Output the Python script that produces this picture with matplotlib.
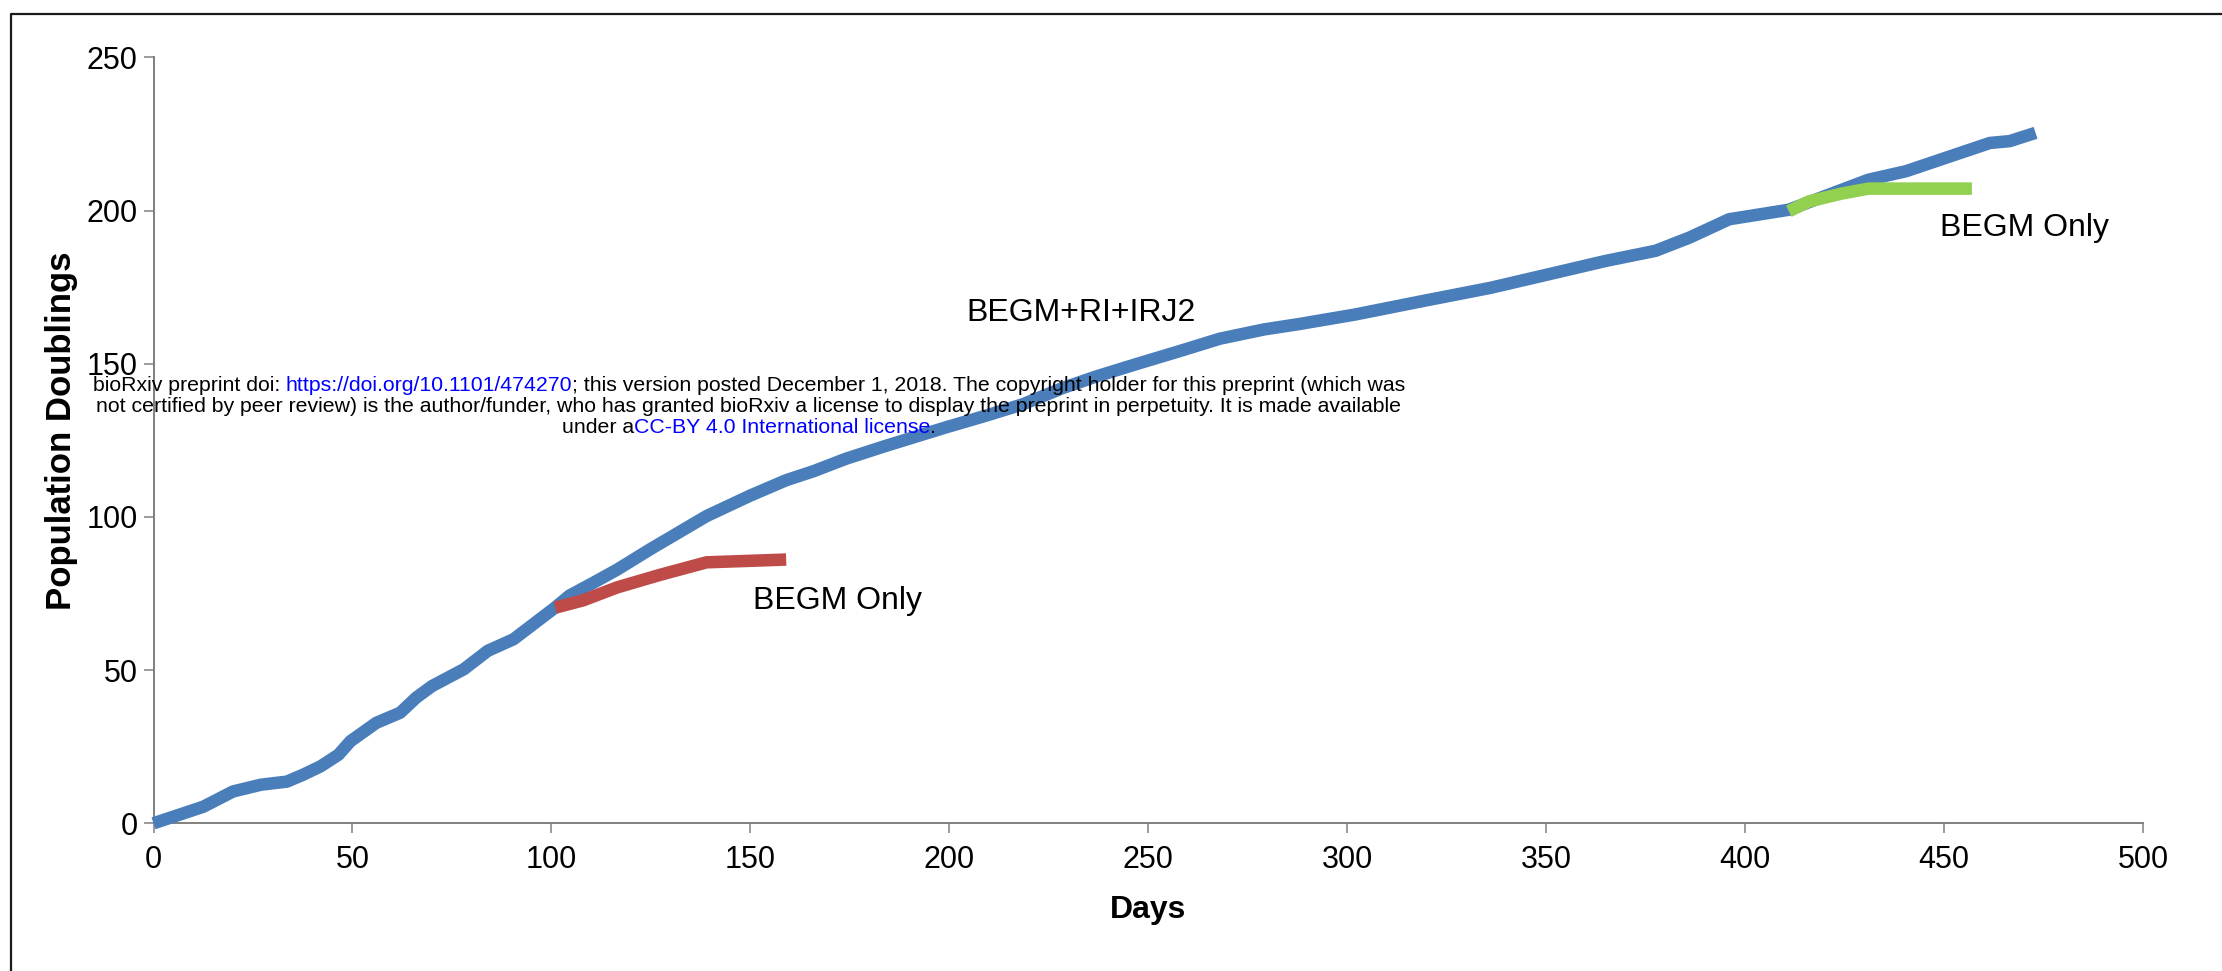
import matplotlib
matplotlib.use('Agg')
import matplotlib.pyplot as plt
from matplotlib.lines import Line2D

plt.rcParams['font.family'] = ['Liberation Sans', 'DejaVu Sans']

# BEGM+RI+IRJ2 (blue)
days_main = [0, 12.5, 20, 27, 33.5, 37.5, 42, 46.5, 49.5, 56, 62, 66, 70, 78, 84,
             90.5, 101, 104.5, 110.5, 116.5, 125, 139, 150, 159, 166, 174, 184,
             193, 199, 209, 218.5, 228.5, 237, 248, 258, 268, 279, 288, 302, 319,
             336, 352.5, 365, 377.5, 386, 396, 411, 431, 440.5, 461.5, 466.5, 473]
pd_main = [0, 5.4, 10.4, 12.6, 13.6, 15.8, 18.6, 22.4, 26.8, 32.8, 36.1, 41, 44.8,
           50.3, 56.3, 60.1, 70.5, 74.3, 78.5, 82.8, 89.6, 100.3, 107, 112, 115,
           119, 123.2, 126.8, 129.2, 133, 136.8, 142.1, 145.9, 150.3, 154.2,
           158.2, 161.2, 163, 166.1, 170.5, 174.8, 179.8, 183.6, 186.9, 191.2,
           197.2, 200.3, 210.1, 212.9, 222.1, 222.7, 225.4]

# BEGM only, switched at day ~101 (red)
days_red = [101, 108, 116.5, 127, 139, 159]
pd_red = [70.4, 72.8, 77.0, 81.0, 85.2, 86.1]

# BEGM only, switched at day ~411 (green)
days_green = [411, 416, 424, 431, 457]
pd_green = [199.8, 203.0, 205.5, 207.2, 207.2]

xticks = [0, 50, 100, 150, 200, 250, 300, 350, 400, 450, 500]
yticks = [0, 50, 100, 150, 200, 250]

W, H = 2222, 971
fig = plt.figure(figsize=(W / 100, H / 100), dpi=100)
ax = fig.add_axes([153.5 / W, 1 - 823.3 / H, (2143 - 153.5) / W, (823.3 - 57.5) / H])

lw = 9
ax.plot(days_main, pd_main, color='#4a7ebb', lw=lw, solid_capstyle='butt',
        solid_joinstyle='round', clip_on=False, zorder=3)
ax.plot(days_red, pd_red, color='#be4b48', lw=lw, solid_capstyle='butt',
        solid_joinstyle='round', clip_on=False, zorder=4)
ax.plot(days_green, pd_green, color='#92d050', lw=lw, solid_capstyle='butt',
        solid_joinstyle='round', clip_on=False, zorder=4)

ax.set_xlim(0, 500)
ax.set_ylim(0, 250)
ax.set_xticks(xticks)
ax.set_yticks(yticks)
for s in ['top', 'right']:
    ax.spines[s].set_visible(False)
for s in ['left', 'bottom']:
    ax.spines[s].set_color('#808080')
    ax.spines[s].set_linewidth(1.4)
ax.tick_params(axis='both', direction='out', length=7.5, width=1.1, color='#808080',
               labelsize=22, labelcolor='black')
ax.tick_params(axis='x', pad=8)
ax.tick_params(axis='y', pad=4)

ax.set_xlabel('Days', fontsize=23, fontweight='bold')
ax.xaxis.set_label_coords(0.5, -0.094)
ax.set_ylabel('Population Doublings', fontsize=25, fontweight='bold')
ax.yaxis.set_label_coords(-0.038, 0.512)

ax.text(233.2, 166.7, 'BEGM+RI+IRJ2', fontsize=23, ha='center', va='center')
ax.text(150.6, 70, 'BEGM Only', fontsize=23, ha='left', va='baseline')
ax.text(448.9, 191.8, 'BEGM Only', fontsize=23, ha='left', va='baseline')

# frame around the figure (left and top edges visible)
fig.add_artist(Line2D([11 / W, 11 / W, 1], [0, 1 - 14 / H, 1 - 14 / H],
                      transform=fig.transFigure, color='#1a1a1a', lw=1.6))

# bioRxiv watermark
wm_lines = [
    [('bioRxiv preprint doi: ', 'black'), ('https://doi.org/10.1101/474270', 'blue'),
     ('; this version posted December 1, 2018. The copyright holder for this preprint (which was', 'black')],
    [('not certified by peer review) is the author/funder, who has granted bioRxiv a license to display the preprint in perpetuity. It is made available', 'black')],
    [('under a', 'black'), ('CC-BY 4.0 International license', 'blue'), ('.', 'black')],
]
wm_base = [391, 412, 433]
wm_cx = 749
wm_size = 15.3

groups = []
for parts, by in zip(wm_lines, wm_base):
    items = []
    for s, c in parts:
        items.append(fig.text(0, 1 - by / H, s, color=c, fontsize=wm_size,
                              ha='left', va='baseline', zorder=10))
    groups.append(items)

fig.canvas.draw()
r = fig.canvas.get_renderer()
for items, by in zip(groups, wm_base):
    widths = [t.get_window_extent(r).width for t in items]
    x = wm_cx - sum(widths) / 2
    for t, w in zip(items, widths):
        t.set_position((x / W, 1 - by / H))
        x += w

fig.savefig('out.png', dpi=100)
